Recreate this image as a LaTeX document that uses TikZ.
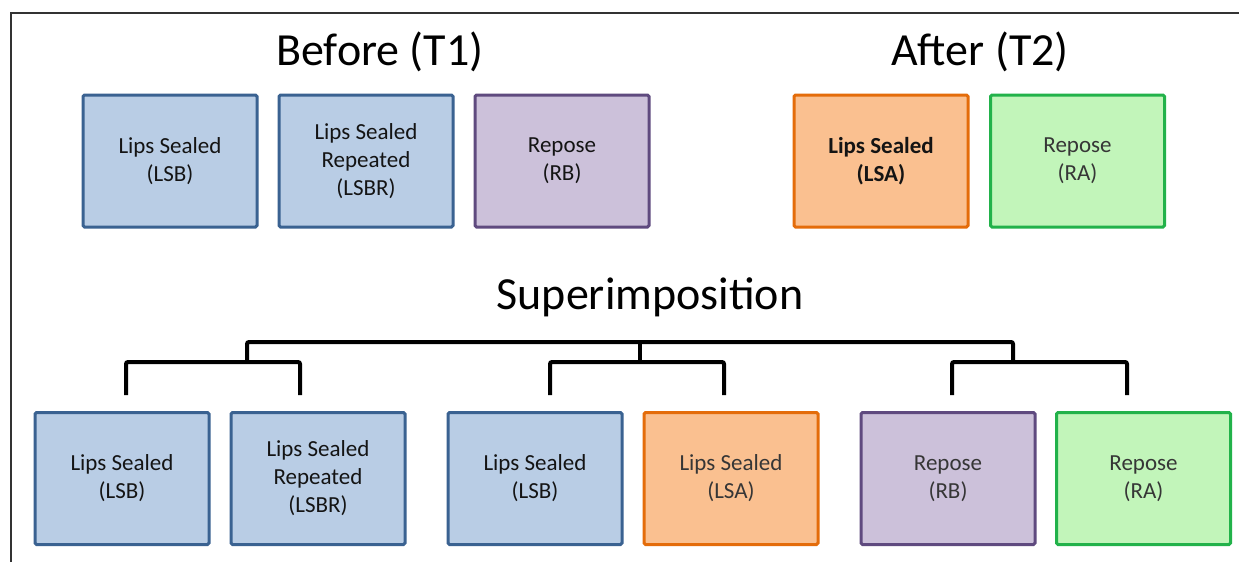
\documentclass[tikz,border=0pt]{standalone}
\usepackage{fontspec}
\setmainfont{Carlito}
\definecolor{bluefill}{HTML}{B9CDE5}
\definecolor{blueline}{HTML}{3A6291}
\definecolor{purpfill}{HTML}{CCC1DA}
\definecolor{purpline}{HTML}{5F4A7F}
\definecolor{orfill}{HTML}{FAC090}
\definecolor{orline}{HTML}{E46C0A}
\definecolor{grfill}{HTML}{C2F5BA}
\definecolor{grline}{HTML}{22B24A}
\definecolor{txt}{HTML}{141414}
\definecolor{txtgray}{HTML}{363636}
\tikzset{
  box/.style={draw, line width=3pt, rounded corners=1.5pt, minimum width=174pt, minimum height=132pt,
    inner sep=0pt, outer sep=0pt, align=center, text=txt,
    font=\fontsize{23}{28}\selectfont},
  bluebox/.style={box, fill=bluefill, draw=blueline},
  purpbox/.style={box, fill=purpfill, draw=purpline},
  orbox/.style={box, fill=orfill, draw=orline},
  grbox/.style={box, fill=grfill, draw=grline, text=txtgray},
  title/.style={anchor=base, inner sep=0pt, font=\fontsize{46}{50}\selectfont, text=black},
  bracket/.style={line width=4pt, rounded corners=2pt, line cap=butt},
  frameline/.style={line width=1.5pt, draw=black!80}
}
\begin{document}
\begin{tikzpicture}[x=1pt,y=-1pt]
\fill[white] (0,0) rectangle (1239,562);
\useasboundingbox (0,0) rectangle (1239,562);
\coordinate (fbl) at (11,562);
\coordinate (ftl) at (11,13);
\coordinate (ftr) at (1239,13);
\draw[frameline] (fbl) -- (ftl) -- (ftr);

% titles
\node[title] (tbefore) at (380,65) {Before (T1)};
\node[title] (tafter) at (980,65) {After (T2)};
\node[title] (tsuper) at (650,309) {Superimposition};

% top boxes
\node[bluebox] (lsb) at (170,161) {Lips Sealed\\(LSB)};
\node[bluebox] (lsbr) at (366,161) {Lips Sealed\\Repeated\\(LSBR)};
\node[purpbox] (rb) at (562,161) {Repose\\(RB)};
\node[orbox, font=\bfseries\fontsize{23}{28}\selectfont] (lsa) at (881,161) {Lips Sealed\\(LSA)};
\node[grbox] (ra) at (1077.5,161) {Repose\\(RA)};

% bottom boxes
\node[bluebox] (b1) at (122,478.5) {Lips Sealed\\(LSB)};
\node[bluebox] (b2) at (318,478.5) {Lips Sealed\\Repeated\\(LSBR)};
\node[bluebox] (b3) at (535,478.5) {Lips Sealed\\(LSB)};
\node[orbox, text=txtgray] (b4) at (731,478.5) {Lips Sealed\\(LSA)};
\node[purpbox, text=txtgray] (b5) at (948,478.5) {Repose\\(RB)};
\node[grbox] (b6) at (1143.5,478.5) {Repose\\(RA)};

% bracket coordinates
\coordinate (jm) at (640,342);
\coordinate (jr) at (1013,342);
\coordinate (l1) at (126,395);
\coordinate (l2) at (300,395);
\coordinate (m1) at (550,395);
\coordinate (m2) at (724,395);
\coordinate (r1) at (952,395);
\coordinate (r2) at (1127,395);
\coordinate (hl) at (247,362);
\coordinate (hm) at (640,362);
\coordinate (hr) at (1013,362);

\draw[bracket] (hl) |- (jr) -- (hr);
\draw[bracket] (jm) -- (hm);
\draw[bracket] (l1) |- (hl) -| (l2);
\draw[bracket] (m1) |- (hm) -| (m2);
\draw[bracket] (r1) |- (hr) -| (r2);
\end{tikzpicture}
\end{document}
